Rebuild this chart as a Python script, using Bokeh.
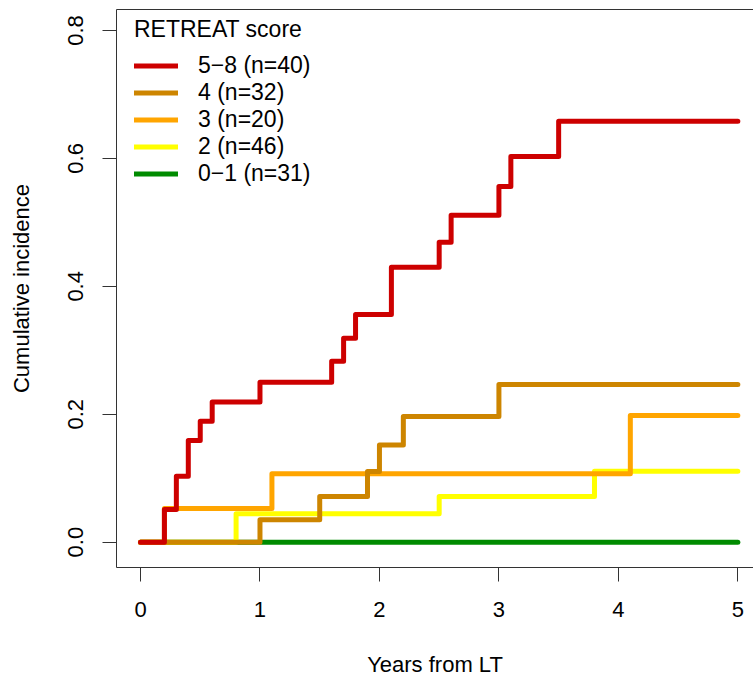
from bokeh.plotting import figure
from bokeh.models import Range1d, LinearAxis, FixedTicker, PrintfTickFormatter, Legend, LegendItem
from bokeh.embed import file_html
from bokeh.resources import INLINE

FONT = "Liberation Sans"

# ---- data ----
t_58 = [0, 0.2, 0.3, 0.4, 0.5, 0.6, 1.0, 1.6, 1.7, 1.8, 2.1, 2.5, 2.6, 3.0, 3.1, 3.5, 5.0]
ci_58 = [0, 0.051, 0.103, 0.159, 0.189, 0.219, 0.250, 0.283, 0.319, 0.356, 0.430, 0.469, 0.511, 0.556, 0.603, 0.658, 0.658]
t_4 = [0, 1.0, 1.5, 1.9, 2.0, 2.2, 3.0, 5.0]
ci_4 = [0, 0.035, 0.0715, 0.1105, 0.152, 0.1965, 0.2466, 0.2466]
t_3 = [0, 0.2, 1.1, 4.1, 5.0]
ci_3 = [0, 0.0527, 0.107, 0.198, 0.198]
t_2 = [0, 0.8, 2.5, 3.8, 5.0]
ci_2 = [0, 0.0444, 0.0715, 0.111, 0.111]
t_01 = [0, 5.0]
ci_01 = [0, 0]

group_labels = ["5\u22128 (n=40)", "4 (n=32)", "3 (n=20)", "2 (n=46)", "0\u22121 (n=31)"]
group_colors = ["#CD0000", "#CD8500", "#FFA500", "#FFFF00", "#008B00"]
legend_title = "RETREAT score"
x_ticks = [0, 1, 2, 3, 4, 5]
y_ticks = [0.0, 0.2, 0.4, 0.6, 0.8]
x_label = "Years from LT"
y_label = "Cumulative incidence"

series = [(t_58, ci_58), (t_4, ci_4), (t_3, ci_3), (t_2, ci_2), (t_01, ci_01)]

p = figure(width=753, height=679,
           x_range=Range1d(-0.201, 5.131), y_range=Range1d(-0.0396, 0.8328),
           output_backend="svg", toolbar_location=None,
           min_border_left=116, min_border_right=0, min_border_top=9, min_border_bottom=112)
p.grid.visible = False
p.outline_line_color = None
p.background_fill_color = "white"
p.border_fill_color = "white"

AX = "#333333"
# bottom axis
xa = p.xaxis[0]
xa.ticker = FixedTicker(ticks=x_ticks)
xa.axis_line_color = AX
xa.major_tick_line_color = AX
xa.major_tick_out = 14
xa.major_tick_in = 0
xa.minor_tick_line_color = None
xa.major_label_standoff = 20
xa.major_label_text_font = FONT
xa.major_label_text_font_size = "22px"
xa.major_label_text_color = "black"
xa.axis_label = x_label
xa.axis_label_text_font = FONT
xa.axis_label_text_font_size = "22px"
xa.axis_label_text_font_style = "normal"
xa.axis_label_text_color = "black"
xa.axis_label_standoff = 32

ya = p.yaxis[0]
ya.ticker = FixedTicker(ticks=y_ticks)
ya.formatter = PrintfTickFormatter(format="%.1f")
ya.axis_line_color = AX
ya.major_tick_line_color = AX
ya.major_tick_out = 14
ya.major_tick_in = 0
ya.minor_tick_line_color = None
ya.major_label_standoff = 19
ya.major_label_orientation = "vertical"
ya.major_label_text_font = FONT
ya.major_label_text_font_size = "22px"
ya.major_label_text_color = "black"
ya.axis_label = y_label
ya.axis_label_text_font = FONT
ya.axis_label_text_font_size = "22px"
ya.axis_label_text_font_style = "normal"
ya.axis_label_text_color = "black"
ya.axis_label_standoff = 32

top = LinearAxis(ticker=FixedTicker(ticks=[]), axis_line_color=AX,
                 major_tick_line_color=None, minor_tick_line_color=None,
                 major_label_text_font_size="0px")
p.add_layout(top, "above")

renderers = {}
for i in reversed(range(len(series))):
    t, ci = series[i]
    r = p.step(t, ci, mode="after", line_color=group_colors[i], line_width=5,
               line_join="round", line_cap="round")
    renderers[i] = r

items = [LegendItem(label=group_labels[i], renderers=[renderers[i]]) for i in range(len(series))]
legend = Legend(items=items, location=(18, 380), title=legend_title,
                title_text_font=FONT, title_text_font_size="23px", title_text_font_style="normal",
                title_text_color="black", title_standoff=9,
                label_text_font=FONT, label_text_font_size="23px", label_text_color="black",
                glyph_width=44, glyph_height=27, label_height=27, label_standoff=20,
                spacing=0, padding=5, margin=0,
                border_line_color=None, background_fill_alpha=0)
p.add_layout(legend)

open("out.html", "w").write(file_html(p, INLINE))
